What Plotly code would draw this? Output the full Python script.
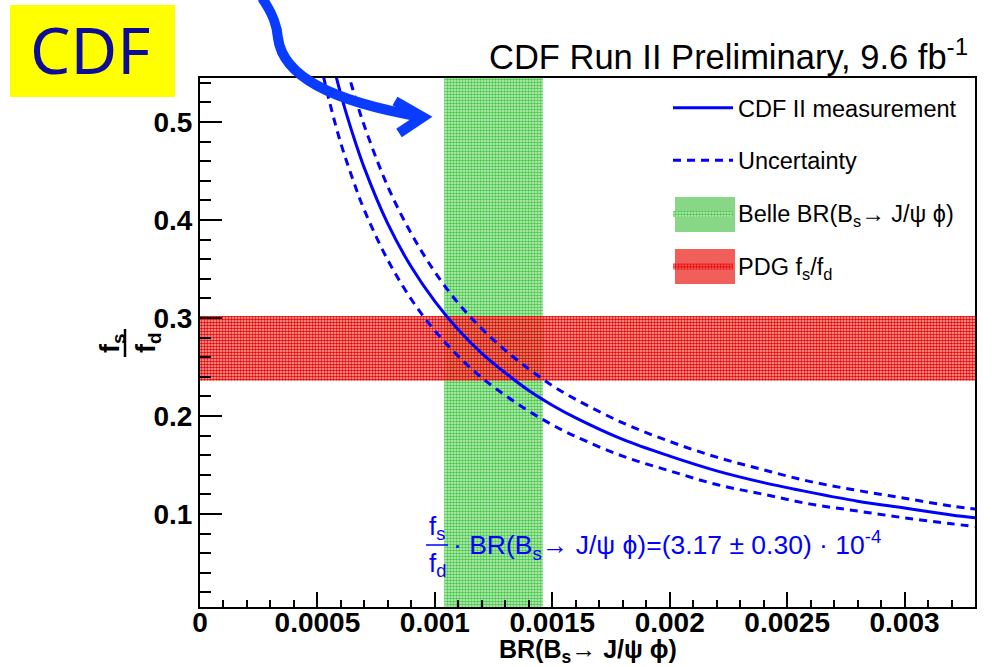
import plotly.graph_objects as go

# ---------------- data ----------------
br_x = [0.0005, 0.00055, 0.0006, 0.00065, 0.0007, 0.0008, 0.0009, 0.001, 0.0011, 0.0012,
        0.0013, 0.0014, 0.0015, 0.0016, 0.0018, 0.002, 0.0022, 0.0024, 0.0026, 0.0028,
        0.003, 0.0032, 0.0033]
fsfd_central = [0.634, 0.576, 0.528, 0.488, 0.453, 0.396, 0.352, 0.317, 0.288, 0.264,
                0.244, 0.226, 0.211, 0.198, 0.176, 0.159, 0.144, 0.132, 0.122, 0.113,
                0.106, 0.099, 0.096]
fsfd_upper = [0.694, 0.631, 0.578, 0.534, 0.496, 0.434, 0.386, 0.347, 0.315, 0.289,
              0.267, 0.248, 0.231, 0.217, 0.193, 0.174, 0.158, 0.145, 0.133, 0.124,
              0.116, 0.108, 0.105]
fsfd_lower = [0.574, 0.522, 0.478, 0.442, 0.410, 0.359, 0.319, 0.287, 0.261, 0.239,
              0.221, 0.205, 0.191, 0.179, 0.159, 0.144, 0.130, 0.120, 0.110, 0.103,
              0.096, 0.090, 0.087]

belle_br = [0.00104, 0.00146]      # Belle BR(Bs -> J/psi phi) band
pdg_fsfd = [0.236, 0.302]          # PDG fs/fd band

x_range = [0.0, 0.0033]
y_range = [0.005, 0.545]

x_tickvals = [0, 0.0005, 0.001, 0.0015, 0.002, 0.0025, 0.003]
x_ticktext = ["0", "0.0005", "0.001", "0.0015", "0.002", "0.0025", "0.003"]
y_tickvals = [0.1, 0.2, 0.3, 0.4, 0.5]
y_ticktext = ["0.1", "0.2", "0.3", "0.4", "0.5"]

# ---------------- layout geometry (pixels) ----------------
W, H = 999, 667
L, R, T, B = 200, 975, 78, 607
PW, PH = R - L, B - T


def px(xp):
    return (xp - L) / PW


def py(yp):
    return (B - yp) / PH


FONT = "Liberation Sans, Arial, Helvetica, sans-serif"
BLUE = "#0000ff"
GREEN_FG = "rgb(70,200,70)"
RED_FG = "rgb(235,0,0)"

fig = go.Figure()

# Belle band (vertical)
fig.add_trace(go.Scatter(
    x=[belle_br[0], belle_br[1], belle_br[1], belle_br[0], belle_br[0]],
    y=[y_range[0], y_range[0], y_range[1], y_range[1], y_range[0]],
    mode="lines", fill="toself", line=dict(width=0, color="rgba(0,0,0,0)"),
    fillcolor="rgba(255,255,255,0)",
    fillpattern=dict(shape=".", size=3, solidity=0.55, fgcolor=GREEN_FG,
                     bgcolor="rgba(205,240,205,1)", fillmode="replace"),
    name="Belle BR(B<sub>s</sub>→ J/ψ ϕ)", legendgroup="c", legendrank=3,
    hoverinfo="skip"))

# PDG band (horizontal)
fig.add_trace(go.Scatter(
    x=[x_range[0], x_range[1], x_range[1], x_range[0], x_range[0]],
    y=[pdg_fsfd[0], pdg_fsfd[0], pdg_fsfd[1], pdg_fsfd[1], pdg_fsfd[0]],
    mode="lines", fill="toself", line=dict(width=0, color="rgba(0,0,0,0)"),
    fillcolor="rgba(255,255,255,0)",
    fillpattern=dict(shape=".", size=3, solidity=0.55, fgcolor=RED_FG,
                     bgcolor="rgba(240,120,110,0.55)", fillmode="replace"),
    name="PDG f<sub>s</sub>/f<sub>d</sub>", legendgroup="d", legendrank=4,
    hoverinfo="skip"))

# Uncertainty curves
fig.add_trace(go.Scatter(
    x=br_x, y=fsfd_upper, mode="lines",
    line=dict(color=BLUE, width=3, dash="8px,6px", shape="spline"),
    name="Uncertainty", legendgroup="b", legendrank=2))
fig.add_trace(go.Scatter(
    x=br_x, y=fsfd_lower, mode="lines",
    line=dict(color=BLUE, width=3, dash="8px,6px", shape="spline"),
    name="Uncertainty", legendgroup="b", showlegend=False))

# Central measurement
fig.add_trace(go.Scatter(
    x=br_x, y=fsfd_central, mode="lines",
    line=dict(color=BLUE, width=3, shape="spline"),
    name="CDF II measurement", legendgroup="a", legendrank=1))

annotations = [
    # title
    dict(text="CDF Run II Preliminary, 9.6 fb<sup>-1</sup>", x=px(970), y=py(54),
         xref="paper", yref="paper", xanchor="right", yanchor="middle", showarrow=False,
         font=dict(family=FONT, size=34.5, color="black")),
    # CDF logo text
    dict(text="CDF", x=px(90), y=py(50), xref="paper", yref="paper",
         xanchor="center", yanchor="middle", showarrow=False,
         font=dict(family="Noto Sans", size=64, color="#0c0c96", weight=400)),
    # x axis title
    dict(text="BR(B<sub>s</sub>→ J/ψ ϕ)", x=px(588), y=py(651), xref="paper", yref="paper",
         xanchor="center", yanchor="middle", showarrow=False,
         font=dict(family=FONT, size=25, color="black", weight="bold")),
    # y axis title: fraction fs / fd
    dict(text="f<sub>s</sub>", x=px(112), y=py(343), xref="paper", yref="paper",
         xanchor="center", yanchor="middle", showarrow=False, textangle=-90,
         font=dict(family=FONT, size=27, color="black", weight="bold")),
    dict(text="f<sub>d</sub>", x=px(148), y=py(343), xref="paper", yref="paper",
         xanchor="center", yanchor="middle", showarrow=False, textangle=-90,
         font=dict(family=FONT, size=27, color="black", weight="bold")),
    # formula annotation
    dict(text="f<sub>s</sub>", x=px(437), y=py(527), xref="paper", yref="paper",
         xanchor="center", yanchor="middle", showarrow=False,
         font=dict(family=FONT, size=26, color=BLUE)),
    dict(text="f<sub>d</sub>", x=px(437), y=py(564), xref="paper", yref="paper",
         xanchor="center", yanchor="middle", showarrow=False,
         font=dict(family=FONT, size=26, color=BLUE)),
    dict(text="· BR(B<sub>s</sub>→ J/ψ ϕ)=(3.17 ± 0.30) · 10<sup>-4</sup>",
         x=px(451), y=py(545), xref="paper", yref="paper",
         xanchor="left", yanchor="middle", showarrow=False,
         font=dict(family=FONT, size=26.5, color=BLUE)),
]

shapes = [
    # yellow CDF box
    dict(type="rect", xref="paper", yref="paper", x0=px(10), x1=px(175), y0=py(97), y1=py(5),
         fillcolor="#ffff00", line=dict(width=0), layer="below"),
    # legend boxes for the two bands (ROOT-style filled key boxes)
    dict(type="rect", xref="paper", yref="paper", x0=px(675), x1=px(735), y0=py(232), y1=py(197),
         fillcolor="rgb(135,215,135)", line=dict(width=0), layer="above"),
    dict(type="rect", xref="paper", yref="paper", x0=px(675), x1=px(735), y0=py(284), y1=py(249),
         fillcolor="rgb(240,95,90)", line=dict(width=0), layer="above"),
    # y-title fraction bar
    dict(type="line", xref="paper", yref="paper", x0=px(125), x1=px(125), y0=py(329), y1=py(357),
         line=dict(color="black", width=2.5)),
    # formula fraction bar
    dict(type="line", xref="paper", yref="paper", x0=px(426), x1=px(448), y0=py(545), y1=py(545),
         line=dict(color=BLUE, width=1.5)),
    # hand-drawn blue arrow
    dict(type="path", xref="paper", yref="paper",
         path="M {:.4f},{:.4f} C {:.4f},{:.4f} {:.4f},{:.4f} {:.4f},{:.4f} C {:.4f},{:.4f} {:.4f},{:.4f} {:.4f},{:.4f}".format(
             px(262), py(-2), px(273), py(14), px(277), py(25), px(278), py(38),
             px(283), py(76), px(330), py(101), px(422), py(117)),
         line=dict(color="#0a3cff", width=10)),
    dict(type="path", xref="paper", yref="paper",
         path="M {:.4f},{:.4f} L {:.4f},{:.4f} L {:.4f},{:.4f}".format(
             px(395), py(101), px(423), py(117), px(399), py(133)),
         line=dict(color="#0a3cff", width=10)),
]

fig.update_layout(
    width=W, height=H,
    margin=dict(l=L, r=W - R, t=T, b=H - B, pad=0),
    plot_bgcolor="white", paper_bgcolor="white",
    font=dict(family=FONT, color="black"),
    showlegend=True,
    legend=dict(x=px(668), y=py(86), xanchor="left", yanchor="top",
                bgcolor="rgba(0,0,0,0)", borderwidth=0,
                font=dict(family=FONT, size=23.5, color="black"),
                traceorder="grouped", tracegroupgap=19, itemwidth=60),
    annotations=annotations,
    shapes=shapes,
    xaxis=dict(range=x_range, showgrid=False, zeroline=False,
               showline=True, linecolor="black", linewidth=2, mirror=True,
               ticks="inside", ticklen=15, tickwidth=1.5, tickcolor="black",
               tickmode="array", tickvals=x_tickvals, ticktext=x_ticktext,
               ticklabelstandoff=-11,
               tickfont=dict(family=FONT, size=28, color="black", weight="bold"),
               minor=dict(ticks="inside", ticklen=7, tickwidth=1.5, tickcolor="black",
                          tickmode="linear", tick0=0, dtick=0.0001, showgrid=False)),
    yaxis=dict(range=y_range, showgrid=False, zeroline=False,
               showline=True, linecolor="black", linewidth=2, mirror=True,
               ticks="inside", ticklen=22, tickwidth=1.5, tickcolor="black",
               tickmode="array", tickvals=y_tickvals, ticktext=y_ticktext,
               tickfont=dict(family=FONT, size=28, color="black", weight="bold"),
               minor=dict(ticks="inside", ticklen=11, tickwidth=1.5, tickcolor="black",
                          tickmode="linear", tick0=0, dtick=0.02, showgrid=False)),
)

fig.write_html("out.html")
